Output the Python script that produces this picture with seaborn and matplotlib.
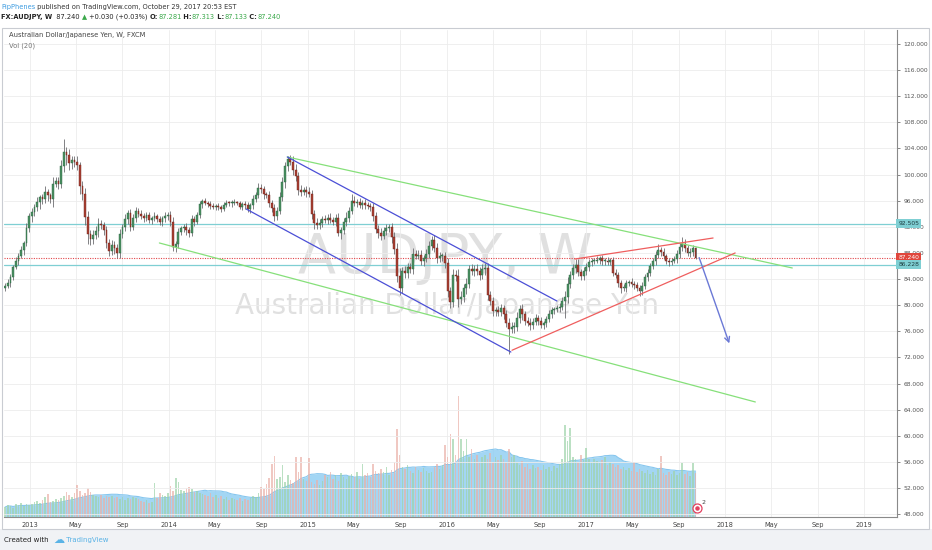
import numpy as np
import pandas as pd
import matplotlib
matplotlib.use("Agg")
import matplotlib.pyplot as plt
import matplotlib.transforms as mtrans
from matplotlib.patches import Rectangle
import seaborn as sns

# ---------------- data ----------------
closes = [
    83.0, 83.4, 84.3, 85.9, 86.7, 87.5, 88.4, 89.5, 91.8, 93.6,
    94.3, 95.0, 95.8, 96.5, 96.2, 97.3, 96.8, 96.3, 98.6, 99.0,
    98.6, 101.3, 103.4, 103.0, 101.7, 102.2, 102.0, 101.4, 98.3, 97.0,
    93.5, 90.9, 90.1, 90.8, 91.4, 92.4, 92.3, 91.5, 89.6, 88.3,
    89.2, 88.8, 88.0, 90.9, 91.9, 93.2, 94.1, 92.0, 93.4, 94.5,
    94.0, 93.6, 93.4, 93.8, 93.0, 93.4, 93.6, 93.2, 92.8, 93.3,
    93.7, 93.8, 92.8, 88.9, 89.4, 91.2, 91.8, 92.0, 91.5, 91.1,
    93.2, 92.8, 93.8, 95.5, 95.9, 95.7, 95.5, 95.2, 95.0, 95.2,
    95.0, 94.8, 95.3, 95.7, 95.6, 95.7, 95.7, 95.6, 95.1, 95.5,
    95.3, 94.7, 95.3, 96.2, 96.9, 98.0, 97.8, 97.0, 96.9, 95.6,
    94.9, 93.6, 94.5, 96.6, 98.8, 101.3, 102.4, 102.0, 100.7, 99.8,
    97.7, 97.4, 97.6, 97.3, 97.1, 94.0, 92.6, 92.3, 92.6, 93.2,
    93.1, 93.4, 93.0, 92.8, 93.4, 91.1, 91.5, 92.7, 93.4, 94.5,
    96.0, 95.7, 95.8, 95.3, 95.6, 95.3, 95.2, 95.0, 93.6, 91.7,
    91.0, 90.6, 91.4, 91.8, 91.9, 90.4, 88.6, 84.5, 82.7, 85.2,
    84.9, 85.8, 85.5, 87.8, 87.6, 87.7, 86.8, 87.2, 87.9, 89.0,
    90.0, 88.8, 87.2, 87.5, 87.5, 86.5, 82.2, 80.5, 84.6, 84.5,
    81.0, 81.2, 82.6, 83.2, 85.5, 85.3, 85.6, 85.2, 84.6, 85.5,
    85.7, 81.5, 80.6, 79.1, 79.3, 78.9, 79.5, 78.6, 77.2, 76.4,
    76.6, 76.7, 78.0, 79.4, 78.6, 77.6, 77.3, 76.9, 77.5, 78.0,
    77.6, 77.0, 77.2, 77.9, 78.6, 79.3, 79.4, 79.5, 79.8, 80.6,
    81.3, 83.3, 84.6, 85.7, 86.2, 85.1, 84.4, 85.2, 85.9, 86.6,
    86.8, 86.8, 86.9, 87.2, 86.7, 86.8, 86.6, 86.9, 85.0, 84.6,
    83.4, 82.6, 82.6, 83.4, 83.5, 83.2, 83.1, 82.6, 82.1, 83.0,
    84.3, 84.9, 86.0, 86.8, 87.7, 88.4, 88.1, 87.5, 86.8, 86.6,
    86.8, 87.0, 87.8, 88.9, 89.4, 88.7, 88.0, 88.1, 88.8, 87.24,
]
first_open = 82.6
wick_up = [
    .4, .6, .5, .3, .7, .5, .6, .4, .8, .5,
    .6, .5, .7, .4, .6, .9, .5, .4, 1.0, .6,
    .7, .9, 2.0, .8, .9, .6, .7, .8, .5, .7,
    .9, 1.0, .6, .7, .8, .9, .6, .5, .7, .6,
    .8, .6, .5, .7, .6, .8, .5, .7, .6, .5,
    .4, .6, .5, .4, .5, .3, .6, .4, .5, .4,
    .5, .4, .6, .7, .5, .6, .4, .5, .6, .5,
    .6, .5, .4, .5, .4, .5, .3, .4, .5, .3,
    .4, .3, .5, .4, .3, .4, .5, .3, .4, .3,
    .4, .5, .3, .6, .5, .7, .6, .5, .4, .6,
    .5, .6, .5, .7, .8, .7, .5, .6, .8, .9,
    .6, .7, .5, .6, .8, .5, .6, .7, .6, .5,
    .6, .5, .7, .5, .6, .7, .5, .6, .8, .6,
    1.0, .7, .5, .6, .5, .6, .5, .4, .6, .7,
    .6, .8, .5, .7, .6, .7, .8, .9, 1.2, .7,
    .8, .6, .7, .9, .6, .7, .8, .5, .7, .8,
    .6, .8, .7, .6, .5, .7, .8, .6, 1.0, .8,
    1.1, .9, .7, 1.0, .6, .8, .5, .7, .6, .8,
    .7, .8, .6, .7, .5, .6, .7, .5, .6, .9,
    .8, .7, .9, .6, .8, .5, .6, .7, .5, .6,
    .5, .6, .4, .5, .6, .5, .4, .6, .5, .6,
    .8, 1.0, .7, .6, .9, .8, .5, .6, .5, .4,
    .5, .4, .6, .3, .5, .4, .6, .4, .5, .6,
    .5, .4, .6, .5, .4, .6, .5, .4, .5, .6,
    .5, .6, .4, .5, .6, 1.0, .5, .6, .4, .5,
    .4, .5, .6, .7, 1.0, .8, .5, .6, .4, .1,
]
wick_dn = [
    .5, .4, .6, .5, .4, .6, .3, .7, .5, .6,
    .8, .6, .5, 1.0, .7, .6, .8, .6, 1.2, .5,
    .8, .7, .9, 1.5, 1.0, .8, .9, .7, 1.2, .9,
    1.2, 1.6, .9, .8, .7, .9, .6, .8, .9, .7,
    .6, .9, .7, .8, .6, .5, .7, .6, .5, .6,
    .5, .4, .6, .5, .4, .6, .5, .4, .5, .6,
    .5, .6, .7, .6, .8, .7, .5, .6, .7, .6,
    .5, .6, .4, .5, .6, .4, .5, .4, .3, .4,
    .4, .5, .4, .3, .4, .5, .4, .3, .4, .5,
    .5, .4, .6, .5, .4, .5, .6, .7, .5, .6,
    .6, .7, .6, .5, .6, .8, .7, .6, .7, .8,
    .9, .7, .6, .7, .6, .8, .9, .7, .6, .7,
    .5, .6, .4, .5, .6, .5, 1.0, .6, .5, .6,
    .6, .5, .6, .4, .5, .6, .5, .6, .7, .6,
    .7, .6, .5, .7, .6, .8, .7, .9, 1.2, .8,
    .7, .8, .6, .7, .5, .6, .7, .8, .6, .7,
    .6, .7, .8, .6, .7, .8, 1.0, .9, .7, .8,
    1.3, .8, .7, .9, .6, .7, .8, .6, .7, .6,
    .8, .7, .6, .8, .7, .6, .5, .7, .6, 3.9,
    .7, .8, .6, .7, .8, .6, .5, .7, .6, .5,
    .6, .5, .7, .6, .5, .6, .7, .5, .6, .5,
    2.5, .9, .7, .6, .8, .7, .6, .5, .6, .7,
    .6, .5, .4, .6, .5, .6, .4, .5, .6, .5,
    .6, .7, .5, .6, .5, .4, .6, .5, .7, .6,
    .5, .6, .4, .5, .6, .5, .6, .4, .5, .6,
    .5, .4, .6, .5, .6, .5, .4, .6, .5, .1,
]
volumes = [
    10, 12, 11, 9, 13, 12, 14, 11, 13, 12,
    13, 15, 16, 14, 17, 20, 23, 15, 16, 18,
    17, 19, 21, 25, 22, 20, 24, 32, 26, 22,
    24, 29, 25, 22, 21, 20, 22, 19, 21, 20,
    21, 19, 20, 18, 20, 17, 19, 18, 20, 19,
    18, 16, 15, 17, 14, 15, 34, 19, 24, 22,
    21, 24, 31, 26, 39, 35, 27, 26, 29, 30,
    28, 25, 26, 24, 23, 22, 21, 24, 20, 22,
    19, 21, 18, 20, 17, 19, 18, 17, 19, 16,
    18, 17, 19, 21, 20, 24, 30, 28, 33, 39,
    53, 61, 38, 40, 52, 35, 42, 37, 34, 60,
    45, 60, 38, 36, 59, 35, 33, 37, 32, 36,
    42, 40, 45, 38, 42, 36, 44, 40, 38, 41,
    43, 40, 45, 38, 53, 42, 44, 40, 53, 46,
    44, 48, 45, 50, 42, 47, 55, 88, 62, 50,
    48, 52, 46, 44, 50, 47, 45, 49, 46, 44,
    45, 50, 53, 48, 52, 72, 60, 83, 78, 62,
    121, 78, 66, 78, 60, 68, 58, 62, 55, 60,
    62, 58, 64, 55, 60, 57, 62, 58, 54, 68,
    60, 62, 55, 52, 56, 50, 53, 48, 52, 49,
    50, 47, 52, 48, 50, 46, 51, 49, 53, 58,
    92, 76, 89, 60, 58, 55, 62, 57, 69, 58,
    55, 58, 56, 54, 57, 60, 52, 55, 53, 50,
    52, 48, 50, 47, 49, 46, 55, 45, 48, 46,
    44, 47, 43, 45, 42, 48, 61, 44, 42, 45,
    43, 46, 42, 44, 54, 43, 45, 41, 54, 44,
]
last_week = "2017-10-15"
vol_ma_len = 20

price_ticks = list(range(48, 121, 4))
x_tick_dates = ["2013-01-01", "2013-05-01", "2013-09-01", "2014-01-01", "2014-05-01", "2014-09-01",
                "2015-01-01", "2015-05-01", "2015-09-01", "2016-01-01", "2016-05-01", "2016-09-01",
                "2017-01-01", "2017-05-01", "2017-09-01", "2018-01-01", "2018-05-01", "2018-09-01",
                "2019-01-01"]
x_tick_labels = ["2013", "May", "Sep", "2014", "May", "Sep", "2015", "May", "Sep", "2016", "May", "Sep",
                 "2017", "May", "Sep", "2018", "May", "Sep", "2019"]

level_cyan = [92.505, 86.228]
last_price = 87.240

green_upper = (["2014-11-08", "2018-06-26"], [102.70, 85.70])
green_lower = (["2013-12-07", "2018-03-21"], [89.53, 65.18])
blue_upper = (["2014-11-08", "2016-10-16"], [102.70, 80.64])
blue_lower = (["2014-07-23", "2016-06-17"], [94.73, 72.83])
red_lower = (["2016-06-20", "2018-01-27"], [73.10, 88.00])
red_upper = (["2016-12-02", "2017-11-30"], [87.07, 90.29])
arrow_from = ("2017-10-22", 87.69)
arrow_to = ("2018-01-14", 73.75)
event_date, event_count = "2017-10-20", 2

# ---------------- derived ----------------
dates = pd.date_range(end=last_week, periods=len(closes), freq="7D")
c = np.array(closes)
o = np.concatenate([[first_open], c[:-1]])
hi = np.maximum(o, c) + np.array(wick_up)
lo = np.minimum(o, c) - np.array(wick_dn)
up = c >= o
vol = np.array(volumes, dtype=float)
vol_ma = pd.Series(vol).rolling(vol_ma_len, min_periods=1).mean().values

# ---------------- figure ----------------
sns.set_theme(style="white")
plt.rcParams["font.family"] = ["DejaVu Sans"]
W, H = 932, 550
fig = plt.figure(figsize=(W / 100, H / 100), dpi=100)
fig.patch.set_facecolor("white")

L, R, T, B = 4, 897, 30, 517
ax_vol = fig.add_axes([L / W, 1 - B / H, (R - L) / W, (B - T) / H])
ax = ax_vol.twinx()

px_per_unit = 6.53
p_bottom = 120 - (B - 44) / px_per_unit
p_top = 120 + (44 - T) / px_per_unit
ax.set_ylim(p_bottom, p_top)
ax_vol.set_ylim(0, B - T)
xlim = (pd.Timestamp("2012-10-25"), pd.Timestamp("2019-03-28"))
ax_vol.set_xlim(*xlim)

# background grey footer and frame
fig.patches.append(Rectangle((0, 0), 1, 1 - 529 / H, transform=fig.transFigure,
                             facecolor="#f0f2f5", edgecolor="none", zorder=-5))
fig.patches.append(Rectangle((2 / W, 1 - 529 / H), 927 / W, 501 / H, transform=fig.transFigure,
                             facecolor="none", edgecolor="#c9ccd2", lw=0.8, zorder=5))

# grid
ax_vol.set_xticks(pd.to_datetime(x_tick_dates))
ax_vol.set_xticklabels(x_tick_labels)
ax_vol.grid(axis="x", color="#ececec", lw=0.6)
ax_vol.set_yticks([])
ax.set_yticks(price_ticks)
ax.set_yticklabels([f"{p:.3f}" for p in price_ticks])
ax.grid(axis="y", color="#ececec", lw=0.6, zorder=0)
ax.set_axisbelow(True)

ax_vol.tick_params(axis="x", labelsize=4.8, colors="#444444", length=2, width=0.5, pad=1.5)
ax.tick_params(axis="y", labelsize=4.3, colors="#555555", length=2.2, width=0.5, pad=2.5)

for a in (ax, ax_vol):
    for s in a.spines.values():
        s.set_visible(False)
ax_vol.spines["bottom"].set_visible(True)
ax_vol.spines["bottom"].set_color("#8a8a8a")
ax_vol.spines["bottom"].set_linewidth(0.8)
ax.spines["right"].set_visible(True)
ax.spines["right"].set_color("#8a8a8a")
ax.spines["right"].set_linewidth(0.8)

# watermark
ax_vol.text(0.494, 0.532, "AUDJPY, W", transform=ax_vol.transAxes, ha="center", va="center",
            fontsize=40, color="#e0e0e0", zorder=0)
ax_vol.text(0.496, 0.433, "Australian Dollar/Japanese Yen", transform=ax_vol.transAxes,
            ha="center", va="center", fontsize=20, color="#e0e0e0", zorder=0)

# volume
vcol = np.where(up, "#9fd3aa", "#eab1a8")
ax_vol.fill_between(dates, 0, vol_ma, color="#93cff3", alpha=0.85, lw=0, zorder=1)
sns.lineplot(x=dates, y=vol_ma, ax=ax_vol, color="#86c6ee", lw=0.8, zorder=2)
ax_vol.bar(dates, vol, width=4.2, color=vcol, alpha=0.7, lw=0, zorder=2)
ax_vol.set_xlabel("")
ax_vol.set_ylabel("")

# horizontal levels
for lv in level_cyan:
    ax.axhline(lv, color="#7fcfd3", lw=0.9, zorder=2)
ax.axhline(last_price, color="#e2474b", lw=0.8, ls=(0, (1, 1.2)), zorder=2)

# candles
ax.vlines(dates, lo, hi, color="#6d6d70", lw=0.6, zorder=3)
body_bottom = np.minimum(o, c)
body_h = np.maximum(np.abs(c - o), 0.15)
ax.bar(dates, body_h, bottom=body_bottom, width=4.8,
       color=np.where(up, "#4b9163", "#ab4134"),
       edgecolor=np.where(up, "#2a6340", "#6a2018"), lw=0.3, zorder=4)

# trend lines
def tline(spec, color, lw=0.9):
    d = pd.DataFrame({"d": pd.to_datetime(spec[0]), "p": spec[1]})
    sns.lineplot(data=d, x="d", y="p", ax=ax, color=color, lw=lw, zorder=5)

tline(green_upper, "#86e07a")
tline(green_lower, "#86e07a")
tline(blue_upper, "#4b4fd6")
tline(blue_lower, "#4b4fd6")
tline(red_lower, "#ef5e5e")
tline(red_upper, "#ef5e5e")
ax.annotate("", xy=(pd.Timestamp(arrow_to[0]), arrow_to[1]),
            xytext=(pd.Timestamp(arrow_from[0]), arrow_from[1]),
            arrowprops=dict(arrowstyle="->", color="#6b79d6", lw=1.0, mutation_scale=9), zorder=6)
ax.set_xlabel("")
ax.set_ylabel("")
ax.set_xlim(*xlim)
ax.set_ylim(p_bottom, p_top)

# event marker
ev = pd.Timestamp(event_date)
ax_vol.scatter([ev], [9], s=42, facecolor="white", edgecolor="#e2405e", lw=0.9, zorder=6)
ax_vol.scatter([ev], [9], s=5, color="#e2405e", zorder=7)
ax_vol.annotate(str(event_count), (ev, 9), xytext=(3, 3), textcoords="offset points",
                fontsize=4.5, color="#444444", zorder=7)

# price badges
bt = mtrans.blended_transform_factory(ax.transAxes, ax.transData)
for lv, fc, tc in [(level_cyan[0], "#7fcfd3", "#1d3d40"), (last_price, "#e0463c", "white"),
                   (level_cyan[1], "#7fcfd3", "#1d3d40")]:
    ax.text(1.0015, lv, f"{lv:.3f}", transform=bt, ha="left", va="center", fontsize=4.3, color=tc,
            bbox=dict(boxstyle="square,pad=0.35", facecolor=fc, edgecolor="none"), zorder=10,
            clip_on=False)

# header / texts
renderer = fig.canvas.get_renderer()

def seq_text(x, y, pieces, size):
    for s, kw in pieces:
        kw = dict(kw)
        kw.setdefault("fontsize", size)
        t = fig.text(x, H - y, s, transform=None, ha="left", va="center", **kw)
        x = t.get_window_extent(renderer).x1

seq_text(1, 7, [("PipPhenes", dict(color="#3c9be0")),
                (" published on TradingView.com, October 29, 2017 20:53 EST", dict(color="#333333"))], 4.8)
g = "#3aa84a"
seq_text(1, 17, [("FX:AUDJPY, W", dict(color="#222222", fontweight="bold")),
                 ("  87.240 ", dict(color="#222222")),
                 ("▲", dict(color=g)),
                 (" +0.030 (+0.03%) ", dict(color="#222222")),
                 ("O:", dict(color="#222222", fontweight="bold")), ("87.281", dict(color=g)),
                 (" H:", dict(color="#222222", fontweight="bold")), ("87.313", dict(color=g)),
                 (" L:", dict(color="#222222", fontweight="bold")), ("87.133", dict(color=g)),
                 (" C:", dict(color="#222222", fontweight="bold")), ("87.240", dict(color=g))], 4.8)
fig.text(9, H - 35, "Australian Dollar/Japanese Yen, W, FXCM", transform=None, ha="left", va="center",
         fontsize=4.9, color="#444444")
fig.text(9, H - 46, "Vol (20)", transform=None, ha="left", va="center", fontsize=4.9, color="#777777")
seq_text(4, 540, [("Created with  ", dict(color="#222222")),
                  ("☁", dict(color="#5ab3e6", fontsize=8)),
                  (" TradingView", dict(color="#5ab3e6"))], 5.0)

fig.savefig("out.png", dpi=100, facecolor=fig.get_facecolor())
